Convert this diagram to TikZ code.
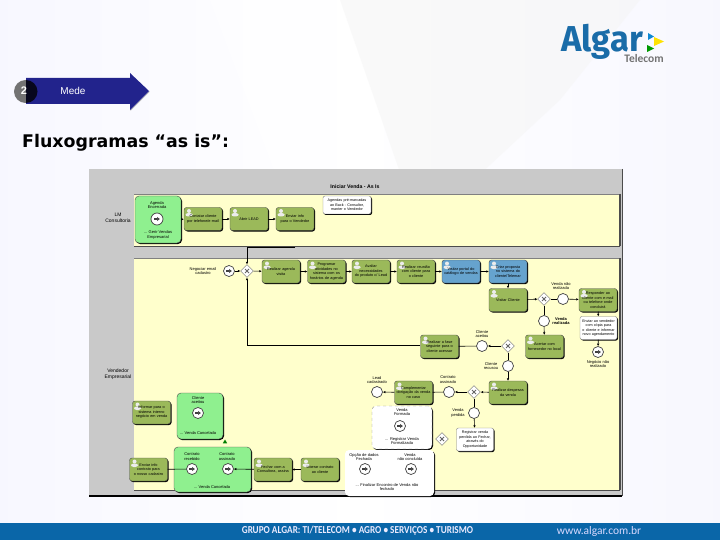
\documentclass[tikz,border=0pt]{standalone}
\usepackage{fontspec}
\setmainfont{Liberation Sans}
\newfontfamily\titlefont{DejaVu Sans}
\newfontfamily\logofont{Fira Sans}
\newfontfamily\footfont{Carlito}
\usetikzlibrary{arrows.meta, shapes.geometric, shadows}

\definecolor{lanefill}{HTML}{FFFFCC}
\definecolor{panelgray}{HTML}{C9C9C9}
\definecolor{taskgreen}{HTML}{9BB95A}
\definecolor{taskblue}{HTML}{66A3CE}
\definecolor{subgreen}{HTML}{8FF08F}
\definecolor{algarblue}{HTML}{1A6CA8}
\definecolor{footblue}{HTML}{0A66A8}
\definecolor{stepblue}{HTML}{22238C}

\tikzset{
 blacksh/.style={drop shadow={shadow xshift=1pt, shadow yshift=-1pt, fill=black, opacity=1}},
 usericon/.style={path picture={
   \fill [white!85!gray] ([shift={(5pt,-3.5pt)}]path picture bounding box.north west) circle (2pt);
   \fill [white!85!gray] ([shift={(1.5pt,-9pt)}]path picture bounding box.north west) rectangle ([shift={(8.5pt,-5.5pt)}]path picture bounding box.north west);
 }},
 taskbox/.style={rectangle, rounded corners=2.5pt, draw=black!70, fill=taskgreen, blacksh, usericon,
   minimum width=38pt, minimum height=23pt, text width=37pt, inner sep=0.5pt, align=center, font=\fontsize{3.8}{4.5}\selectfont},
 bluebox/.style={taskbox, fill=taskblue},
 notebox/.style={rectangle, rounded corners=2pt, draw=black!50, fill=white, blacksh,
   minimum width=37pt, minimum height=23pt, text width=36pt, inner sep=0.5pt, align=center, font=\fontsize{3.7}{4.5}\selectfont},
 subbox/.style={rectangle, rounded corners=4pt, draw=black!70, fill=subgreen, blacksh},
 whitebox/.style={rectangle, rounded corners=4pt, fill=white, blacksh},
 lbl/.style={align=center, inner sep=0pt, font=\fontsize{4}{4.8}\selectfont},
 plainev/.style={circle, draw=black!75, fill=white, line width=0.7pt, minimum size=11pt, inner sep=0pt},
 msgev/.style={plainev, path picture={
   \draw [line width=1.5pt, -{Latex[length=3pt,width=4.5pt]}] ([xshift=-3pt]path picture bounding box.center) -- ([xshift=3pt]path picture bounding box.center);
 }},
 gateway/.style={diamond, draw=black!60, fill=white, minimum size=13pt, inner sep=0pt, path picture={
   \draw [line width=1pt] ([shift={(-2pt,-2pt)}]path picture bounding box.center) -- ([shift={(2pt,2pt)}]path picture bounding box.center);
   \draw [line width=1pt] ([shift={(-2pt,2pt)}]path picture bounding box.center) -- ([shift={(2pt,-2pt)}]path picture bounding box.center);
 }},
 flow/.style={draw=black, line width=0.6pt, -{Latex[length=2.5pt,width=2.5pt]}},
 plainflow/.style={draw=black, line width=0.6pt}
}

\begin{document}
\begin{tikzpicture}[x=1pt, y=-1pt]
 \useasboundingbox (0,0) rectangle (720,540);

 %%% background
 \shade [left color=black!6!blue!3!white, right color=white] (0,0) rectangle (360,523);
 \shade [left color=white, right color=black!8!blue!3!white] (360,0) rectangle (720,523);
 \fill [white, opacity=0.55] (210,0) -- (340,0) -- (430,240) -- (300,240) -- cycle;
 \fill [black!4, opacity=0.5] (340,0) -- (640,0) -- (560,100) -- (420,230) -- cycle;
 \fill [footblue] (0,523) rectangle (720,540);

 \node [font=\footfont\bfseries\fontsize{10.6}{12}\selectfont, text=white!92!blue, inner sep=0pt] (foottext) at (357.5,531) {\scalebox{0.87}[1]{GRUPO ALGAR: TI/TELECOM • AGRO • SERVIÇOS • TURISMO}};
 \node [font=\footfont\fontsize{11.5}{13}\selectfont, text=white!85!blue, inner sep=0pt] (footurl) at (599,531) {www.algar.com.br};

 %%% logo
 \node [font=\logofont\bfseries\fontsize{36}{38}\selectfont, text=algarblue, inner sep=0pt, anchor=base west] (logotext) at (561,52) {\scalebox{0.96}[1]{Algar}};
 \node [font=\footfont\bfseries\fontsize{11.5}{13}\selectfont, text=black!55, inner sep=0pt] (logosub) at (644,59) {Telecom};
 \fill [cyan!70!blue] (648,33) -- (654,36.5) -- (648,40) -- cycle;
 \fill [yellow!85!orange] (654,37) -- (664,41.5) -- (654,46) -- cycle;
 \fill [green!60!black] (647,45) -- (654,48.5) -- (647,52) -- cycle;

 %%% header
 \fill [black!55] (25.5,91.5) circle (11.5);
 \draw [white!70!black, line width=0.6pt] (130.5,110.5) -- (149.5,91.5);
 \fill [stepblue] (26,78) -- (130,78) -- (130,73) -- (149,91) -- (130,110) -- (130,104) -- (26,104) -- cycle;
 \fill [black!80!stepblue] (26,80) -- (26,103) arc (90:-90:11.5) -- cycle;
 \node [text=white, font=\bfseries\fontsize{11}{12}\selectfont, inner sep=0pt] (stepnum) at (24,91) {2};
 \node [text=white, font=\fontsize{10}{12}\selectfont, inner sep=0pt] (steptext) at (73,91) {Mede};
 \node [font=\titlefont\bfseries\fontsize{17.4}{20}\selectfont, anchor=west, inner sep=0pt] (slidetitle) at (22,143) {Fluxogramas “as is”:};

 %%% panel and lanes
 \fill [panelgray] (89,169) rectangle (622,496);
 \draw [black, line width=1.2pt] (89,496) -- (622,496);
 \draw [black!70, line width=1pt] (622,169) -- (622,496);
 \fill [lanefill] (134,194) rectangle (620,246);
 \fill [lanefill] (134,258) rectangle (620,490);
 \draw [black!50] (134,194) -- (620,194);
 \draw [black!50] (134,258) -- (620,258);
 \draw [black!70, line width=1.4pt] (134,246.5) -- (620,246.5);
 \draw [black!70, line width=1.4pt] (134,490.5) -- (620,490.5);
 \draw [black!70, line width=1.2pt] (620,194) -- (620,246);
 \draw [black!70, line width=1.2pt] (620,258) -- (620,490);

 \node [font=\bfseries\fontsize{5.2}{6}\selectfont, inner sep=0pt] (chart) at (355,186.5) {Iniciar Venda - As Is};
 \node [lbl, font=\fontsize{5}{6}\selectfont] (lanea) at (118,218) {LM\\Consultoria};
 \node [lbl, font=\fontsize{5}{6}\selectfont] (laneb) at (118,374) {Vendedor\\Empresarial};

 %%% nodes lane 1
 \node [subbox, minimum width=46pt, minimum height=47pt] (agenda) at (158,219.5) {};
 \node [lbl] (agendatop) at (157,205) {Agenda\\Encerrada};
 \node [msgev, minimum size=12pt] (agendaev) at (157,219) {};
 \node [lbl] (agendabot) at (158,235) {... Gerir Vendas\\Empresarial};
 \node [taskbox] (contatar) at (203,219) {Contatar cliente\\por telefone/e-mail};
 \node [taskbox] (lead) at (249,219) {Abrir LEAD};
 \node [taskbox] (enviar) at (295,219) {Enviar info\\para o Vendedor};
 \node [notebox, minimum width=48pt, minimum height=18pt, text width=46pt] (notaa) at (347,205) {Agendas pré-marcadas\\ao Back - Consultor,\\manter o Vendedor};

 %%% nodes lane 2, top row
 \node [lbl] (negociarl) at (203,271) {Negociar email\\cadastro};
 \node [msgev] (negociar) at (229,271) {};
 \node [gateway] (gwa) at (247,271) {};
 \node [taskbox] (realizar) at (281,271.5) {Realizar agenda\\visita};
 \node [taskbox] (programar) at (326.5,271.5) {Programar\\atividades no\\sistema com os\\horários de agenda};
 \node [taskbox] (avaliar) at (371,271.5) {Avaliar\\necessidades\\do produto c/ Lead};
 \node [taskbox] (reuniao) at (416,271.5) {Realizar reunião\\com cliente para\\o cliente};
 \node [bluebox] (portal) at (461,271.5) {Visitar portal do\\catálogo de vendas};
 \node [bluebox] (proposta) at (508,271.5) {Criar proposta\\no sistema do\\cliente/Telemar};
 \node [taskbox] (visitar) at (508,300) {Visitar Cliente};

 \node [gateway] (gwb) at (544,299) {};
 \node [plainev] (naoreal) at (563,299) {};
 \node [lbl] (naoreall) at (561,286) {Venda não\\realizada};
 \node [taskbox] (responder) at (598,300) {Responder ao\\cliente com e-mail\\ou telefone onde\\concluirá};
 \node [notebox] (notab) at (598.5,328) {Enviar ao vendedor\\com cópia para\\o cliente e informar\\novo agendamento};
 \node [msgev] (fimneg) at (598,352) {};
 \node [lbl] (fimnegl) at (598,364) {Negócio não\\realizado};
 \node [plainev] (real) at (544,321) {};
 \node [lbl, font=\bfseries\fontsize{4}{4.8}\selectfont] (reall) at (561,321) {Venda\\realizada};
 \node [taskbox] (acertar) at (544.5,346.5) {Acertar com\\fornecedor no local};

 %%% nodes lane 2, middle
 \node [gateway] (gwc) at (508,346) {};
 \node [plainev] (aceitou) at (482,346) {};
 \node [lbl] (aceitoul) at (482,334) {Cliente\\aceitou};
 \node [taskbox] (fase) at (439.5,346.5) {Realizar a fase\\seguinte para o\\cliente acessar};
 \node [plainev] (recusou) at (508,366) {};
 \node [lbl] (recusoul) at (491,366) {Cliente\\recusou};
 \node [taskbox] (despesas) at (508,392.5) {Realizar despesas\\da venda};
 \node [gateway] (gwd) at (474,392) {};
 \node [plainev] (assinado) at (449,392) {};
 \node [lbl] (assinadol) at (448,380) {Contrato\\assinado};
 \node [taskbox] (obrigacao) at (413.5,392.5) {Complementar\\obrigação da venda\\no caso};
 \node [plainev] (lead2) at (377,392) {};
 \node [lbl] (lead2l) at (377,380) {Lead\\cadastrado};
 \node [plainev] (perdida) at (474,413) {};
 \node [lbl] (perdidal) at (458,413) {Venda\\perdida};
 \node [notebox, minimum height=23pt] (notac) at (475,439.5) {Registrar venda\\perdida ao Fechar,\\através do\\Opportunidade};
 \node [gateway] (gwe) at (442,439) {};

 %%% white sub processes
 \node [whitebox, draw=black!45, dashed, minimum width=60pt, minimum height=43pt] (formada) at (402,427.5) {};
 \node [lbl] (formadal) at (402,412) {Venda\\Formada};
 \node [msgev, draw=black!75] (formadaev) at (400,426) {};
 \node [lbl] (formadat) at (402,441) {... Registrar Venda\\Formalizada};
 \node [whitebox, minimum width=89pt, minimum height=46pt] (fechar) at (389.5,473) {};
 \node [lbl] (fecharal) at (364,457) {Opção de dados\\Fechada};
 \node [lbl] (fecharbl) at (410,457) {Venda\\não concluída};
 \node [msgev] (fechara) at (365,469) {};
 \node [msgev] (fecharb) at (411,469) {};
 \node [lbl] (fechart) at (387,487) {... Finalizar Encontro de Venda não\\fechado};

 %%% nodes lower left
 \node [taskbox] (sistema) at (151.5,412.5) {Informar para o\\sistema interno\\negócio em venda};
 \node [subbox, minimum width=46pt, minimum height=46pt] (cliente) at (200,416) {};
 \node [lbl] (clientel) at (198,400) {Cliente\\aceitou};
 \node [msgev] (clienteev) at (198,413) {};
 \node [lbl] (clientet) at (198,433.5) {... Venda Cancelada};
 \node [draw=none, fill=green!50!black, regular polygon, regular polygon sides=3, minimum size=5pt, inner sep=0pt] (marca) at (225,442) {};
 \node [subbox, minimum width=77pt, minimum height=45pt] (contrato) at (212.5,469.5) {};
 \node [lbl] (contratoal) at (192,457) {Contrato\\recebido};
 \node [lbl] (contratobl) at (227,457) {Contrato\\assinado};
 \node [msgev] (contratoa) at (192,469) {};
 \node [msgev] (contratob) at (228,469) {};
 \node [lbl] (contratot) at (212,487) {... Venda Cancelada};
 \node [taskbox] (informar) at (148.5,469.5) {Enviar info\\contrato para\\o nosso cadastro};
 \node [taskbox] (consultora) at (273,469.5) {Fechar com a\\Consultora, assina};
 \node [taskbox] (ciente) at (320,469.5) {Liberar contrato\\ao cliente};

 %%% coordinates
 \coordinate (linha) at (295,247);
 \coordinate (canto) at (247,247);
 \coordinate (volta) at (247,345);

 %%% connectors
 \draw [flow] (agenda) to (contatar);
 \draw [flow] (contatar) to (lead);
 \draw [flow] (lead) to (enviar);
 \draw [plainflow, line width=0.8pt] (linha) -- (canto);
 \draw [flow] (canto) -- (gwa);
 \draw [flow] (negociar) to (gwa);
 \draw [flow] (gwa) to (realizar);
 \draw [flow] (realizar) to (programar);
 \draw [flow] (programar) to (avaliar);
 \draw [flow] (avaliar) to (reuniao);
 \draw [flow] (reuniao) to (portal);
 \draw [flow] (portal) to (proposta);
 \draw [flow] (proposta) to (visitar);
 \draw [flow] (visitar) to (gwb);
 \draw [plainflow] (gwb) to (naoreal);
 \draw [flow] (naoreal) to (responder);
 \draw [flow] (responder) to (notab);
 \draw [flow] (notab) to (fimneg);
 \draw [plainflow] (gwb) to (real);
 \draw [flow] (real) to (acertar);
 \draw [flow] (gwc) to (aceitou);
 \draw [plainflow] (aceitou) to (fase);
 \draw [plainflow] (fase.west |- volta) -- (volta);
 \draw [flow] (volta) -- (gwa);
 \draw [plainflow] (gwc) to (recusou);
 \draw [flow] (recusou) to (despesas);
 \draw [flow] (despesas) to (gwd);
 \draw [flow] (gwd) to (assinado);
 \draw [plainflow] (assinado) to (obrigacao);
 \draw [flow] (obrigacao) to (lead2);
 \draw [plainflow] (gwd) to (perdida);
 \draw [flow] (perdida) to (notac);
 \draw [flow] (ciente) to (consultora);
 \draw [flow] (consultora) to (contratob);
 \draw [plainflow] (contratoa) to (informar);

\end{tikzpicture}
\end{document}
